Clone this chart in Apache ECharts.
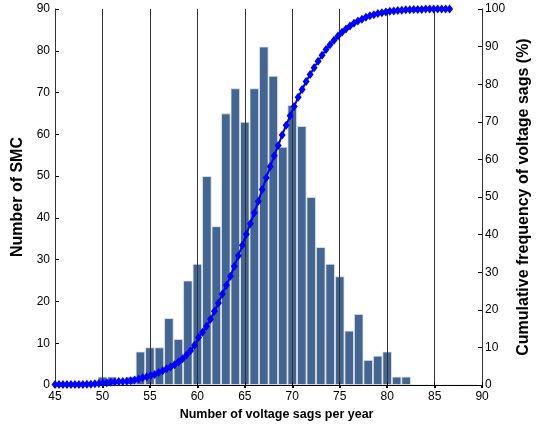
<!DOCTYPE html>
<html>
<head>
<meta charset="utf-8">
<script src="https://cdn.jsdelivr.net/npm/echarts@6/dist/echarts.min.js"></script>
<style>
  html, body { margin: 0; padding: 0; background: #fff; }
  #chart { width: 540px; height: 430px; }
</style>
</head>
<body>
<div id="chart"></div>
<script>
// Histogram bins: number of voltage sags per year
const sagBins = [50, 51, 52, 53, 54, 55, 56, 57, 58, 59, 60, 61, 62, 63, 64, 65, 66,
  67, 68, 69, 70, 71, 72, 73, 74, 75, 76, 77, 78, 79, 80, 81, 82, 83, 84, 85, 86, 87, 88, 89];
// Number of SMC falling in each bin
const smcCounts = [2, 2, 0, 2, 8, 9, 9, 16, 11, 25, 29, 50, 38, 65, 71, 63, 71,
  81, 74, 57, 67, 62, 45, 33, 29, 26, 13, 17, 6, 7, 8, 2, 2, 0, 0, 0, 0, 0, 0, 0];

// Cumulative frequency curve (%), sampled along the sag axis
const cumX = [45.00, 45.42, 45.84, 46.26, 46.68, 47.10, 47.52, 47.94, 48.36, 48.78,
  49.20, 49.62, 50.04, 50.46, 50.88, 51.30, 51.72, 52.14, 52.56, 52.98,
  53.40, 53.82, 54.24, 54.66, 55.08, 55.50, 55.92, 56.34, 56.76, 57.18,
  57.60, 58.02, 58.44, 58.86, 59.28, 59.70, 60.12, 60.54, 60.96, 61.38,
  61.80, 62.22, 62.64, 63.06, 63.48, 63.90, 64.32, 64.74, 65.16, 65.58,
  66.00, 66.42, 66.84, 67.26, 67.68, 68.10, 68.52, 68.94, 69.36, 69.78,
  70.20, 70.62, 71.04, 71.46, 71.88, 72.30, 72.72, 73.14, 73.56, 73.98,
  74.40, 74.82, 75.24, 75.66, 76.08, 76.50, 76.92, 77.34, 77.76, 78.18,
  78.60, 79.02, 79.44, 79.86, 80.28, 80.70, 81.12, 81.54, 81.96, 82.38,
  82.80, 83.22, 83.64, 84.06, 84.48, 84.90, 85.32, 85.74, 86.16, 86.58];
const cumPct = [0.1, 0.1, 0.1, 0.1, 0.1, 0.1, 0.1, 0.1, 0.2, 0.2,
  0.3, 0.4, 0.5, 0.6, 0.7, 0.8, 0.9, 0.9, 1.0, 1.1,
  1.3, 1.6, 1.9, 2.2, 2.5, 2.8, 3.3, 3.8, 4.3, 4.8,
  5.4, 6.2, 7.0, 8.0, 9.1, 10.6, 12.6, 14.0, 15.6, 17.5,
  19.6, 21.8, 24.2, 26.5, 28.9, 31.6, 34.4, 37.2, 40.1, 42.9,
  45.8, 48.9, 52.0, 55.1, 58.1, 61.0, 63.7, 66.5, 69.1, 71.6,
  74.1, 76.5, 78.6, 80.7, 82.6, 84.4, 86.1, 87.7, 89.2, 90.5,
  91.7, 92.8, 93.8, 94.7, 95.5, 96.2, 96.8, 97.3, 97.8, 98.2,
  98.5, 98.8, 99.0, 99.2, 99.4, 99.5, 99.6, 99.7, 99.8, 99.8,
  99.9, 99.9, 99.9, 100, 100, 100, 100, 100, 100, 100];

const FONT = '"Liberation Sans", Arial, sans-serif';

const chart = echarts.init(document.getElementById('chart'), null, { renderer: 'canvas' });

chart.setOption({
  animation: false,
  backgroundColor: '#ffffff',
  textStyle: { fontFamily: FONT },
  grid: { left: 55, right: 53, top: 9, bottom: 45 },
  xAxis: [
    {
      type: 'value', position: 'bottom', min: 45, max: 90, interval: 5, z: 3,
      axisLine: { show: true, onZero: false, lineStyle: { color: '#000', width: 1 } },
      axisTick: { show: true, inside: true, length: 3, lineStyle: { color: '#000' } },
      axisLabel: { color: '#000', fontSize: 12, fontFamily: FONT, margin: 6 },
      splitLine: { show: true, lineStyle: { color: '#333', width: 1 } },
      name: 'Number of voltage sags per year',
      nameLocation: 'middle', nameGap: 18,
      nameTextStyle: { color: '#000', fontSize: 12.5, fontWeight: 'bold', fontFamily: FONT,
        padding: [0, 0, 0, 16] }
    },
    {
      type: 'value', position: 'top', min: 45, max: 90, interval: 5,
      axisLine: { show: false },
      axisTick: { show: true, inside: true, length: 3, lineStyle: { color: '#000', width: 2 } },
      axisLabel: { show: false },
      splitLine: { show: false }
    }
  ],
  yAxis: [
    {
      type: 'value', position: 'left', min: 0, max: 90, interval: 10,
      axisLine: { show: true, lineStyle: { color: '#000', width: 1 } },
      axisTick: { show: true, inside: true, length: 4, lineStyle: { color: '#000' } },
      axisLabel: { color: '#000', fontSize: 12, fontFamily: FONT, margin: 5 },
      splitLine: { show: false },
      name: 'Number of SMC',
      nameLocation: 'middle', nameRotate: 90, nameGap: 25,
      nameTextStyle: { color: '#000', fontSize: 16, fontWeight: 'bold', fontFamily: FONT }
    },
    {
      type: 'value', position: 'right', min: 0, max: 100, interval: 10,
      axisLine: { show: true, lineStyle: { color: '#000', width: 1 } },
      axisTick: { show: true, inside: true, length: 4, lineStyle: { color: '#000' } },
      axisLabel: { color: '#000', fontSize: 12, fontFamily: FONT, margin: 3 },
      splitLine: { show: false },
      name: 'Cumulative frequency of voltage sags (%)',
      nameLocation: 'middle', nameRotate: 90, nameGap: 27,
      nameTextStyle: { color: '#000', fontSize: 16, fontWeight: 'bold', fontFamily: FONT }
    }
  ],
  series: [
    {
      type: 'bar',
      xAxisIndex: 0, yAxisIndex: 0,
      barWidth: 9.4,
      data: sagBins.map((b, i) => [b, smcCounts[i]]),
      itemStyle: { color: '#44658f', borderColor: '#dfe7f1', borderWidth: 0.8 },
      z: 1
    },
    {
      type: 'line',
      xAxisIndex: 0, yAxisIndex: 1,
      data: cumX.map((x, i) => [x, cumPct[i]]),
      symbol: 'diamond',
      symbolSize: [7, 9],
      showAllSymbol: true,
      clip: false,
      lineStyle: { color: '#0000ff', width: 2 },
      itemStyle: { color: '#0000ff', borderWidth: 0 },
      z: 5
    }
  ]
});
</script>
</body>
</html>
